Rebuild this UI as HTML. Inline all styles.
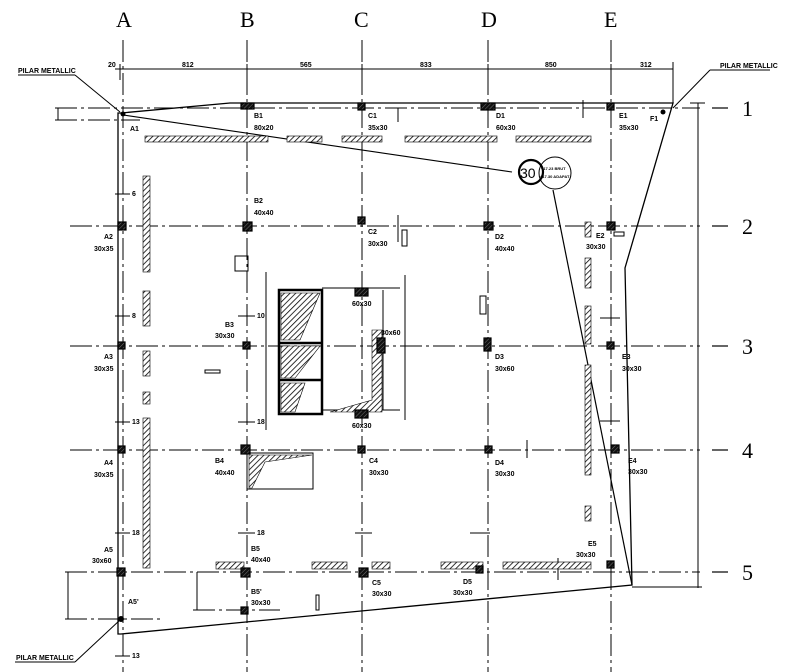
<!DOCTYPE html>
<html><head><meta charset="utf-8"><style>
html,body{margin:0;padding:0;background:#fff;width:800px;height:672px;overflow:hidden}
svg{display:block}
text{font-family:"Liberation Sans",sans-serif;font-size:7px;font-weight:bold;fill:#000}
.g{font-family:"Liberation Serif",serif;font-size:22px;font-weight:normal}
</style></head><body>
<svg width="800" height="672" viewBox="0 0 800 672" xmlns="http://www.w3.org/2000/svg">
<defs>
<pattern id="h" width="4" height="4" patternUnits="userSpaceOnUse" patternTransform="rotate(45)">
<rect width="4" height="4" fill="#fff"/><line x1="0" y1="0" x2="0" y2="4" stroke="#000" stroke-width="1.6"/></pattern>
<pattern id="c" width="3" height="3" patternUnits="userSpaceOnUse" patternTransform="rotate(45)">
<rect width="3" height="3" fill="#111"/><line x1="0" y1="0" x2="0" y2="3" stroke="#888" stroke-width="0.8"/></pattern>
</defs>
<g stroke="#000" stroke-width="1" stroke-dasharray="22,4,3,4" fill="none">
<line x1="123" y1="40" x2="123" y2="672"/>
<line x1="247" y1="40" x2="247" y2="672"/>
<line x1="362" y1="40" x2="362" y2="672"/>
<line x1="488" y1="40" x2="488" y2="672"/>
<line x1="611" y1="40" x2="611" y2="672"/>
<line x1="55" y1="108" x2="700" y2="108"/>
<line x1="70" y1="226" x2="700" y2="226"/>
<line x1="70" y1="346" x2="700" y2="346"/>
<line x1="70" y1="450" x2="700" y2="450"/>
<line x1="65" y1="572" x2="700" y2="572"/>
<line x1="55" y1="120" x2="140" y2="120"/>
<line x1="65" y1="619" x2="160" y2="619"/>
<line x1="193" y1="610" x2="280" y2="610"/>
</g>
<g stroke="#000" stroke-width="1.2">
<line x1="712" y1="108" x2="728" y2="108"/><line x1="712" y1="226" x2="728" y2="226"/>
<line x1="712" y1="346" x2="728" y2="346"/><line x1="712" y1="450" x2="728" y2="450"/>
<line x1="712" y1="572" x2="728" y2="572"/>
</g>
<text class="g" x="116" y="27">A</text><text class="g" x="240" y="27">B</text>
<text class="g" x="354" y="27">C</text><text class="g" x="481" y="27">D</text>
<text class="g" x="604" y="27">E</text>
<text class="g" x="742" y="116">1</text><text class="g" x="742" y="234">2</text>
<text class="g" x="742" y="354">3</text><text class="g" x="742" y="458">4</text>
<text class="g" x="742" y="580">5</text>
<g stroke="#000" stroke-width="1" fill="none">
<line x1="115" y1="69" x2="673" y2="69"/>
<line x1="673" y1="62" x2="673" y2="104"/>
<line x1="698" y1="103" x2="698" y2="588"/>
<line x1="632" y1="587" x2="702" y2="587"/>
<line x1="690" y1="103" x2="705" y2="103"/>
<line x1="58" y1="108" x2="58" y2="120"/>
<line x1="68" y1="572" x2="68" y2="619"/>
<line x1="197" y1="572" x2="197" y2="610"/>
<line x1="120" y1="64" x2="120" y2="80"/><line x1="247" y1="64" x2="247" y2="74"/>
<line x1="362" y1="64" x2="362" y2="74"/><line x1="488" y1="64" x2="488" y2="74"/>
<line x1="611" y1="64" x2="611" y2="74"/>
<polyline points="121,113 230,103 673,103 625,268 632,585 121,634 118,634 118,113 121,113" stroke-width="1.3"/>
<line x1="553" y1="190" x2="632" y2="585" stroke-width="1.2"/>
<line x1="123" y1="115" x2="512" y2="172" stroke-width="1.1"/>
<line x1="75" y1="75" x2="120" y2="112"/><line x1="18" y1="75" x2="75" y2="75"/>
<line x1="710" y1="70" x2="673" y2="108"/><line x1="710" y1="70" x2="770" y2="70"/>
<line x1="120" y1="620" x2="75" y2="662"/><line x1="15" y1="662" x2="75" y2="662"/>
<circle cx="531" cy="172" r="12" stroke-width="2.2"/>
<circle cx="555" cy="173" r="16"/>
<rect x="279" y="290" width="43" height="124" stroke-width="2.5"/>
<line x1="279" y1="343" x2="322" y2="343" stroke-width="2.5"/>
<line x1="279" y1="380" x2="322" y2="380" stroke-width="2.5"/>
<line x1="322" y1="288" x2="400" y2="288"/>
<line x1="322" y1="410" x2="400" y2="410"/>
<line x1="383" y1="290" x2="383" y2="410"/>
<line x1="266" y1="272" x2="266" y2="430"/><line x1="405" y1="275" x2="405" y2="420"/>
<rect x="247" y="453" width="66" height="36"/>
<rect x="235" y="256" width="13" height="15"/>
<rect x="480" y="296" width="6" height="18"/>
<rect x="402" y="230" width="5" height="16"/>
<rect x="614" y="232" width="10" height="4"/>
<rect x="205" y="370" width="15" height="3"/>
<rect x="316" y="595" width="3" height="15"/>
<line x1="115" y1="194" x2="130" y2="194"/><line x1="115" y1="316" x2="130" y2="316"/>
<line x1="115" y1="422" x2="130" y2="422"/><line x1="115" y1="533" x2="130" y2="533"/>
<line x1="238" y1="316" x2="255" y2="316"/><line x1="238" y1="422" x2="255" y2="422"/>
<line x1="238" y1="533" x2="255" y2="533"/><line x1="355" y1="533" x2="372" y2="533"/>
<line x1="470" y1="533" x2="490" y2="533"/><line x1="600" y1="318" x2="620" y2="318"/>
<line x1="600" y1="421" x2="620" y2="421"/><line x1="115" y1="656" x2="130" y2="656"/>
<line x1="398" y1="108" x2="398" y2="122"/><line x1="583" y1="100" x2="583" y2="118"/>
<line x1="527" y1="440" x2="527" y2="458"/><line x1="558" y1="558" x2="558" y2="580"/>
<line x1="398" y1="215" x2="398" y2="242"/>
</g>
<g fill="url(#h)" stroke="#000" stroke-width="0.6">
<rect x="145" y="136" width="123" height="6"/><rect x="287" y="136" width="35" height="6"/>
<rect x="342" y="136" width="40" height="6"/><rect x="405" y="136" width="92" height="6"/>
<rect x="516" y="136" width="75" height="6"/>
<rect x="143" y="176" width="7" height="96"/><rect x="143" y="291" width="7" height="35"/>
<rect x="143" y="351" width="7" height="25"/><rect x="143" y="392" width="7" height="12"/>
<rect x="143" y="418" width="7" height="150"/>
<rect x="585" y="222" width="6" height="15"/><rect x="585" y="258" width="6" height="30"/>
<rect x="585" y="306" width="6" height="38"/><rect x="585" y="365" width="6" height="110"/>
<rect x="585" y="506" width="6" height="15"/>
<rect x="216" y="562" width="28" height="7"/><rect x="312" y="562" width="35" height="7"/>
<rect x="372" y="562" width="18" height="7"/><rect x="441" y="562" width="42" height="7"/>
<rect x="503" y="562" width="88" height="7"/>
<polygon points="281,293 320,293 300,340 281,340"/>
<polygon points="281,346 320,346 295,378 281,378"/>
<polygon points="281,383 305,383 295,412 281,412"/>
<polygon points="372,330 382,330 382,412 330,412 372,400"/>
<polygon points="249,455 312,455 265,462 252,488 249,488"/>
</g>
<g fill="url(#c)" stroke="#000" stroke-width="1.2">
<rect x="118" y="222" width="8" height="8"/><rect x="243" y="222" width="9" height="9"/>
<rect x="358" y="217" width="7" height="7"/><rect x="484" y="222" width="9" height="8"/>
<rect x="607" y="222" width="8" height="8"/>
<rect x="241" y="103" width="13" height="6"/><rect x="358" y="103" width="7" height="7"/>
<rect x="481" y="103" width="14" height="7"/><rect x="607" y="103" width="7" height="7"/>
<rect x="118" y="342" width="7" height="7"/><rect x="243" y="342" width="7" height="7"/>
<rect x="484" y="338" width="7" height="13"/><rect x="607" y="342" width="7" height="7"/>
<rect x="118" y="446" width="7" height="7"/><rect x="241" y="445" width="9" height="9"/>
<rect x="358" y="446" width="7" height="7"/><rect x="485" y="446" width="7" height="7"/>
<rect x="611" y="445" width="8" height="8"/>
<rect x="117" y="568" width="8" height="8"/><rect x="241" y="568" width="9" height="9"/>
<rect x="359" y="568" width="9" height="9"/><rect x="476" y="566" width="7" height="7"/>
<rect x="607" y="561" width="7" height="7"/><rect x="241" y="607" width="7" height="7"/>
<rect x="355" y="288" width="13" height="8"/><rect x="355" y="410" width="13" height="8"/>
<rect x="377" y="338" width="8" height="15"/>
</g>
<circle cx="121" cy="619" r="3" fill="#000"/><circle cx="663" cy="112" r="2.5" fill="#000"/>
<circle cx="123" cy="114" r="2.5" fill="#000"/>
<text x="520" y="178" style="font-family:'Liberation Sans',sans-serif;font-size:14px;font-weight:normal">30</text>
<text x="541" y="170" style="font-size:4px">+17.23 BRUT</text>
<text x="540" y="178" style="font-size:4px">+17.30 ADAPAT</text>
<text x="18" y="73">PILAR METALLIC</text><text x="720" y="68">PILAR METALLIC</text>
<text x="16" y="660">PILAR METALLIC</text>
<g>
<text x="130" y="131">A1</text><text x="254" y="118">B1</text><text x="254" y="130">80x20</text>
<text x="368" y="118">C1</text><text x="368" y="130">35x30</text>
<text x="496" y="118">D1</text><text x="496" y="130">60x30</text>
<text x="619" y="118">E1</text><text x="619" y="130">35x30</text><text x="650" y="121">F1</text>
<text x="254" y="203">B2</text><text x="254" y="215">40x40</text>
<text x="104" y="239">A2</text><text x="94" y="251">30x35</text>
<text x="368" y="234">C2</text><text x="368" y="246">30x30</text>
<text x="495" y="239">D2</text><text x="495" y="251">40x40</text>
<text x="596" y="238">E2</text><text x="586" y="249">30x30</text>
<text x="225" y="327">B3</text><text x="215" y="338">30x30</text>
<text x="104" y="359">A3</text><text x="94" y="371">30x35</text>
<text x="495" y="359">D3</text><text x="495" y="371">30x60</text>
<text x="622" y="359">E3</text><text x="622" y="371">30x30</text>
<text x="352" y="306">60x30</text><text x="352" y="428">60x30</text><text x="381" y="335">30x60</text>
<text x="104" y="465">A4</text><text x="94" y="477">30x35</text>
<text x="215" y="463">B4</text><text x="215" y="475">40x40</text>
<text x="369" y="463">C4</text><text x="369" y="475">30x30</text>
<text x="495" y="465">D4</text><text x="495" y="476">30x30</text>
<text x="628" y="463">E4</text><text x="628" y="474">30x30</text>
<text x="104" y="552">A5</text><text x="92" y="563">30x60</text>
<text x="251" y="551">B5</text><text x="251" y="562">40x40</text>
<text x="128" y="604">A5'</text><text x="251" y="594">B5'</text><text x="251" y="605">30x30</text>
<text x="372" y="585">C5</text><text x="372" y="596">30x30</text>
<text x="463" y="584">D5</text><text x="453" y="595">30x30</text>
<text x="588" y="546">E5</text><text x="576" y="557">30x30</text>
</g>
<g style="font-size:5px">
<text x="182" y="67">812</text><text x="300" y="67">565</text><text x="420" y="67">833</text>
<text x="545" y="67">850</text><text x="640" y="67">312</text><text x="108" y="67">20</text>
<text x="132" y="196">6</text><text x="132" y="318">8</text><text x="132" y="424">13</text>
<text x="132" y="535">18</text><text x="257" y="318">10</text><text x="257" y="424">18</text>
<text x="257" y="535">18</text><text x="132" y="658">13</text>
</g>
</svg>
</body></html>
